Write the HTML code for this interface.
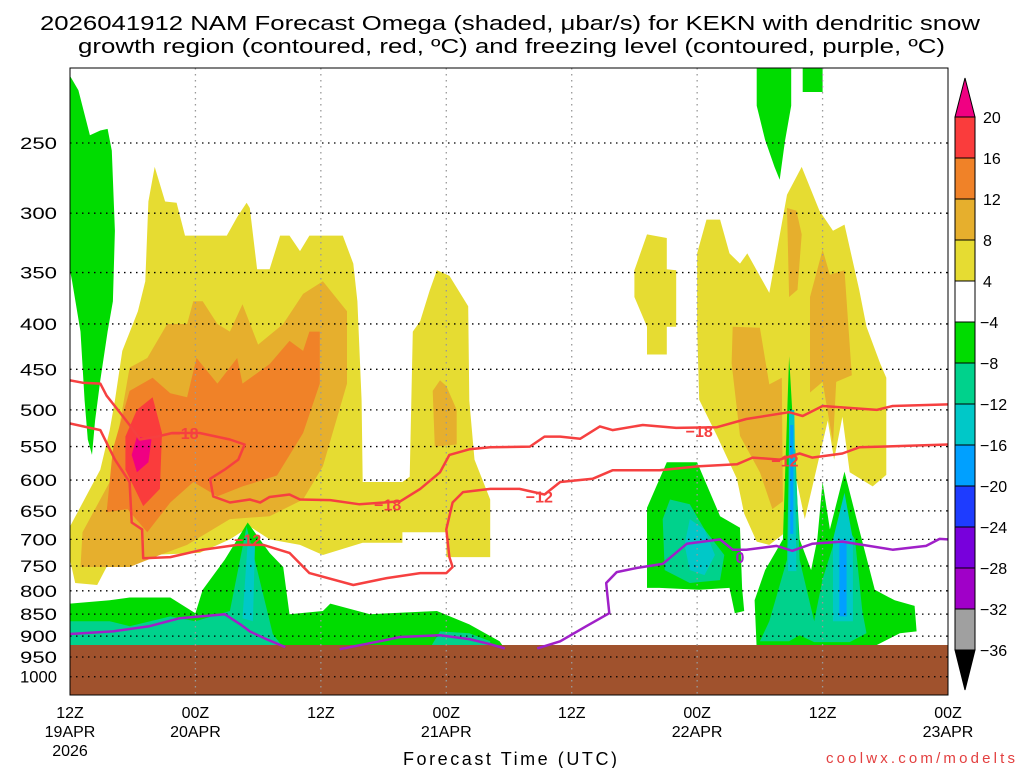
<!DOCTYPE html>
<html><head><meta charset="utf-8"><style>
html,body{margin:0;padding:0;background:#fff;}
svg{display:block;font-family:"Liberation Sans",sans-serif;}
</style></head><body>
<svg id="chart" width="1024" height="768" viewBox="0 0 1024 768" xmlns="http://www.w3.org/2000/svg">
<defs><clipPath id="plotclip"><rect x="70" y="68" width="878" height="627"/></clipPath></defs>
<rect x="0" y="0" width="1024" height="768" fill="#fff"/>
<g font-size="20" fill="#000">
<text x="40" y="30" textLength="940" lengthAdjust="spacingAndGlyphs">2026041912 NAM Forecast Omega (shaded, μbar/s) for KEKN with dendritic snow</text>
<text x="78" y="53" textLength="867" lengthAdjust="spacingAndGlyphs">growth region (contoured, red, ºC) and freezing level (contoured, purple, ºC)</text>
</g>
<g id="shade" clip-path="url(#plotclip)"></g>
<rect x="70" y="645" width="878" height="50" fill="#a0522d"/>
<g id="grid"></g>
<g id="contours" clip-path="url(#plotclip)"></g>
<rect x="70" y="68" width="878" height="627" fill="none" stroke="#000" stroke-width="1"/>
<g id="yaxis" font-size="17"></g>
<g id="xaxis" font-size="16"></g>
<text x="510" y="765" text-anchor="middle" font-size="18" textLength="214">Forecast Time (UTC)</text>
<text x="826" y="763" font-size="15" fill="#e34040" textLength="189">coolwx.com/modelts</text>
<g id="colorbar"></g>
</svg>
<script>
const pressureTicks=[250,300,350,400,450,500,550,600,650,700,750,800,850,900,950,1000];
const hourTicks=[0,12,24,36,48,60,72,84];
const hourLabels=["12Z","00Z","12Z","00Z","12Z","00Z","12Z","00Z"];
const dateLabels=["19APR","20APR","","21APR","","22APR","","23APR"];
const cbLevels=[20,16,12,8,4,-4,-8,-12,-16,-20,-24,-28,-32,-36];
const cbColors=["#fa3c3c","#f08228","#e6af2d","#e6dc32","#ffffff","#00dc00","#00d28c","#00c8c8","#00a0ff","#1e3cff","#7800dc","#a000c8","#a0a0a0"];

const greenCol=[[0,210],[0.8,218],[1.9,245],[2.9,242],[3.6,241],[4.0,255],[4.3,314],[4.1,377],[3.6,408],[2.9,463],[2.4,514],[2.1,562],[1.7,540],[1.4,488],[1.0,408],[0.2,358],[0,348]];
const yellowA=[[8.1,266],[9.1,291],[10.2,292],[11.0,318],[15.0,318],[16.0,303],[16.9,292],[17.2,296],[17.9,347],[19.1,347],[20.1,318],[21.0,318],[22.0,331],[22.9,318],[26.1,318],[27.1,342],[27.5,377],[27.9,488],[28.0,603],[31.8,603],[32.5,595],[32.8,408],[33.5,397],[34.4,367],[35.1,348],[36.3,353],[38.1,382],[38.2,488],[38.7,569],[40.2,631],[40.2,733],[36.0,733],[36.0,687],[31.8,687],[31.8,706],[28.0,706],[24.2,729],[22.0,710],[19.1,700],[17.2,677],[15.3,700],[12.4,725],[7.6,729],[3.5,752],[2.6,788],[0.5,784],[0,738],[0,677],[2.9,584],[3.8,527],[4.3,488],[5.0,429],[6.5,387],[7.2,358],[7.5,291]];
const orangeA=[[5.7,448],[3.8,603],[1.2,687],[1.0,752],[5.7,752],[8.6,729],[11.2,710],[15.3,664],[19.1,659],[22.3,631],[24.2,579],[26.5,467],[26.5,387],[24.2,358],[22.3,370],[20.4,400],[18.0,422],[16.5,380],[15.3,408],[14.1,400],[12.7,377],[11.8,377],[11.2,400],[9.3,400],[7.4,437]];
const orangeB=[[5.7,476],[7.9,460],[9.6,479],[11.2,484],[12.1,437],[14.1,467],[16.0,437],[16.5,467],[19.1,444],[21.0,418],[22.3,429],[22.9,408],[23.9,408],[23.9,467],[22.3,531],[19.8,593],[16.5,610],[14.1,626],[11.8,603],[9.6,636],[7.4,687],[5.5,647],[3.5,652],[4.1,554]];
const redA=[[7.9,484],[8.8,531],[8.6,614],[7.0,642],[5.3,584],[5.3,536],[6.4,500]];
const magentaA=[[6.4,536],[7.8,540],[7.5,573],[6.4,588],[5.9,562]];
const orangeCol=[[34.7,476],[35.4,463],[36.0,470],[37.0,500],[37.0,547],[34.9,550]];
const greenA=[[0,930],[0,827],[3.8,820],[5.7,814],[9.6,814],[12.0,848],[12.7,798],[14.8,738],[17.0,670],[19.1,725],[20.4,752],[21.0,850],[24.2,843],[24.9,827],[28.7,850],[35.1,843],[38.2,873],[41.1,912],[41.6,930]];
const tealA=[[0,930],[0,866],[3.8,866],[5.7,877],[9.6,855],[12.0,866],[15.3,843],[16.9,677],[19.4,895],[20.5,930]];
const tealA2=[[34.4,930],[35.4,889],[38.2,893],[40.2,912],[40.2,930]];
const cyanA=[[17.0,706],[16.5,859],[17.5,866],[17.7,710]];
const greenTop=[[65.7,200],[69.0,200],[69.0,227],[68.4,249],[67.9,275],[67.4,266],[66.5,248],[65.7,227]];
const greenSq=[[70.1,200],[72.0,200],[72.0,219],[70.1,219]];
const yellowB=[[54.0,348],[55.2,317],[57.1,320],[57.1,347],[58.0,348],[58.0,403],[57.1,403],[57.1,433],[55.2,433],[55.2,403],[54.0,373]];
const yellowC=[[60.0,333],[60.9,305],[62.2,305],[63.1,333],[64.1,342],[64.8,333],[66.9,369],[68.6,286],[70.0,266],[71.7,298],[73.0,314],[74.1,309],[75.5,366],[76.2,403],[77.5,443],[78.1,460],[78.1,592],[76.8,610],[74.6,588],[73.9,509],[73.1,569],[72.5,514],[71.2,598],[70.3,664],[69.3,584],[68.2,691],[66.9,710],[65.7,704],[64.5,655],[63.8,598],[61.9,535],[60.2,487],[60.0,403]];
const orangeR1=[[63.4,403],[66.0,404],[66.9,468],[68.1,460],[68.2,634],[67.2,647],[66.0,588],[64.1,535],[63.3,443]];
const orangeR2=[[68.6,296],[69.5,298],[70.0,317],[69.6,366],[68.8,373]];
const orangeR3=[[70.8,373],[72.0,330],[72.7,352],[74.1,348],[74.8,457],[73.3,465],[73.0,545],[72.0,465],[70.8,478]];
const greenB=[[57.1,573],[60.0,573],[62.2,659],[64.1,679],[64.3,794],[64.5,843],[63.6,848],[63.1,794],[60.2,798],[56.4,794],[55.2,794],[55.2,645]];
const tealB=[[57.4,631],[59.3,639],[60.7,682],[62.6,729],[62.2,778],[59.3,784],[56.9,758],[56.7,664]];
const cyanB=[[59.3,664],[60.7,682],[61.7,729],[60.7,768],[59.3,758],[58.8,710]];
const greenC=[[65.7,930],[65.5,820],[66.5,758],[68.2,700],[68.8,435],[69.8,700],[70.9,758],[71.5,700],[72.0,603],[72.7,682],[74.1,587],[75.5,682],[77.0,798],[78.9,820],[80.8,832],[81.0,889],[79.4,893],[76.5,930]];
const tealC=[[66.0,912],[66.9,866],[68.6,738],[68.8,554],[69.4,554],[69.8,738],[71.2,866],[72.0,776],[73.8,664],[75.1,700],[75.8,843],[76.2,893],[74.6,914],[71.2,914],[69.8,898],[68.8,912]];
const cyanC1=[[68.8,500],[69.3,500],[69.5,760],[68.7,760]];
const blueC1=[[68.9,520],[69.2,520],[69.2,690],[68.9,690]];
const cyanC2=[[73.0,700],[74.1,620],[74.9,700],[74.9,866],[73.0,866]];
const blueC2=[[73.6,700],[74.3,700],[74.3,855],[73.6,855]];

const contourA=[[0,463],[1.2,466],[2.9,467],[3.5,482],[4.8,504],[5.7,520],[6.7,540],[8.3,536],[9.8,531],[12.4,531],[15.3,540],[16.7,547],[16.1,569],[14.8,584],[13.4,598],[13.7,626],[15.3,636],[17.2,631],[18.2,636],[19.1,627],[21.0,623],[22.0,631],[24.9,632],[27.7,639],[31.6,634],[33.5,614],[35.4,588],[36.3,562],[38.2,554],[40.2,551],[44.0,550],[45.4,536],[46.9,536],[48.8,539],[50.7,522],[51.9,527],[54.8,520],[58.0,524],[61.9,523],[64.7,512],[68.8,503],[70.1,508],[72.0,495],[77.2,500],[78.7,495],[84,493]];
const contourB=[[0,518],[2.9,527],[4.3,569],[5.7,603],[5.9,670],[6.9,682],[7.0,735],[9.6,733],[12.7,719],[16.0,710],[18.5,710],[21.0,725],[22.9,764],[27.1,788],[30.3,774],[33.5,764],[36.0,764],[36.6,752],[36.3,733],[36.0,682],[36.6,636],[37.6,619],[40.2,614],[43.0,614],[45.4,623],[46.9,603],[50.0,598],[51.9,585],[56.4,585],[60.2,579],[63.8,576],[65.3,566],[67.9,569],[69.8,560],[71.0,566],[73.9,560],[75.5,551],[84,547]];
const freezeA=[[0,895],[4.1,889],[7.6,877],[10.5,859],[14.8,850],[16.3,873],[17.2,889],[18.6,905],[20.6,926]];
const freezeB=[[25.8,931],[29.6,912],[31.6,902],[35.4,898],[38.2,907],[40.2,919],[41.6,929]];
const freezeC=[[44.7,929],[46.9,912],[49.4,877],[51.6,848],[51.4,807],[51.3,784],[52.3,762],[54.2,754],[56.7,746],[59.0,708],[62.2,700],[63.4,719],[64.7,719],[67.6,712],[69.1,721],[71.0,708],[73.9,704],[78.7,719],[81.9,712],[83.2,699],[84,700]];
const contourLabels=[[11.0,531,"-18"],[30.4,639,"-18"],[60.2,528,"-18"],[17.0,700,"-12"],[44.9,626,"-12"],[68.4,570,"-12"],[64.1,733,"0"]];

const NS="http://www.w3.org/2000/svg";
function x(h){return 70+h*878/84;}
function y(p){return 143+385*Math.log(p/250);}
function mk(tag,parent,attrs){const e=document.createElementNS(NS,tag);for(const k in attrs)e.setAttribute(k,attrs[k]);parent.appendChild(e);return e;}
function pts(a){return a.map(d=>x(d[0]).toFixed(1)+","+y(d[1]).toFixed(1)).join(" ");}

const shade=document.getElementById("shade");
const layers=[
 [greenCol,"#00dc00","shade-green-column"],[yellowA,"#e6dc32","shade-yellow-main"],[orangeA,"#e6af2d","shade-orange-8"],[orangeB,"#f08228","shade-orange-12"],[redA,"#fa3c3c","shade-red-16"],[magentaA,"#f00082","shade-magenta-20"],[orangeCol,"#e6af2d","shade-orange-column"],
 [greenA,"#00dc00","shade-green-low"],[tealA,"#00d28c","shade-teal-low"],[tealA2,"#00d28c","shade-teal-low-2"],[cyanA,"#00c8c8","shade-cyan-low"],
 [greenTop,"#00dc00","shade-green-top"],[greenSq,"#00dc00","shade-green-square"],[yellowB,"#e6dc32","shade-yellow-small"],[yellowC,"#e6dc32","shade-yellow-right"],[orangeR1,"#e6af2d","shade-orange-right-1"],[orangeR2,"#e6af2d","shade-orange-right-2"],[orangeR3,"#e6af2d","shade-orange-right-3"],
 [greenB,"#00dc00","shade-green-22apr"],[tealB,"#00d28c","shade-teal-22apr"],[cyanB,"#00c8c8","shade-cyan-22apr"],
 [greenC,"#00dc00","shade-green-spikes"],[tealC,"#00d28c","shade-teal-spikes"],[cyanC1,"#00c8c8","shade-cyan-spike-1"],[blueC1,"#00a0ff","shade-blue-spike-1"],[cyanC2,"#00c8c8","shade-cyan-spike-2"],[blueC2,"#00a0ff","shade-blue-spike-2"]
];
layers.forEach(l=>{
 const e=mk("polygon",shade,{points:pts(l[0]),fill:l[1]});
 
 
});

const grid=document.getElementById("grid");
pressureTicks.forEach(p=>{
 const e=mk("line",grid,{x1:70,x2:948,y1:y(p),y2:y(p),stroke:"#000","stroke-width":1.3,"stroke-dasharray":"1.5,4.5"});
 
 
});
hourTicks.slice(1,-1).forEach(h=>{
 const e=mk("line",grid,{x1:x(h),x2:x(h),y1:68,y2:695,stroke:"#999","stroke-width":1.3,"stroke-dasharray":"1.5,4.5"});
 
 
});

const cont=document.getElementById("contours");
[[contourA,"#f64040","contour-minus18"],[contourB,"#f64040","contour-minus12"],[freezeA,"#a020c8","freezing-level-1"],[freezeB,"#a020c8","freezing-level-2"],[freezeC,"#a020c8","freezing-level-3"]].forEach(c=>{
 const e=mk("polyline",cont,{points:pts(c[0]),fill:"none",stroke:c[1],"stroke-width":2.5,"stroke-linejoin":"round"});
 
 
});
contourLabels.forEach(l=>{
 const e=mk("text",cont,{x:x(l[0]),y:y(l[1])+6,"text-anchor":"middle","font-size":16,"font-weight":"bold",fill:l[2]=="0"?"#a020c8":"#f64040"});
 e.textContent=l[2].replace("-","−");
 
 
});

const ya=document.getElementById("yaxis");
pressureTicks.forEach(p=>{
 const e=mk("text",ya,{x:20,y:y(p)+6,textLength:37,lengthAdjust:"spacingAndGlyphs"});
 e.textContent=String(p);
 
 
});
const xa=document.getElementById("xaxis");
hourTicks.forEach((h,i)=>{
 const t=mk("text",xa,{x:x(h),y:718,"text-anchor":"middle"});t.textContent=hourLabels[i];
 
 
 if(dateLabels[i]){const d=mk("text",xa,{x:x(h),y:737,"text-anchor":"middle"});d.textContent=dateLabels[i];
 
 }
});
const yr=mk("text",xa,{x:x(0),y:756,"text-anchor":"middle"});yr.textContent="2026";



const cb=document.getElementById("colorbar");
function cy(i){return 117+i*41;}
const cbTopArrow=mk("polygon",cb,{points:"955,117 975,117 965,78",fill:"#f00082",stroke:"#000"});


cbColors.forEach((c,i)=>{
 const e=mk("rect",cb,{x:955,y:cy(i),width:20,height:41,fill:c,stroke:"#000","stroke-width":1});
 
 
});
const cbBottomArrow=mk("polygon",cb,{points:"955,650 975,650 965,690",fill:"#000",stroke:"#000"});


cbLevels.forEach((v,i)=>{
 const e=mk("text",cb,{x:v<0?980:983,y:cy(i)+6,"font-size":16});
 e.textContent=v<0?"−"+Math.abs(v):String(v);
 
 
});
</script>
</body></html>
